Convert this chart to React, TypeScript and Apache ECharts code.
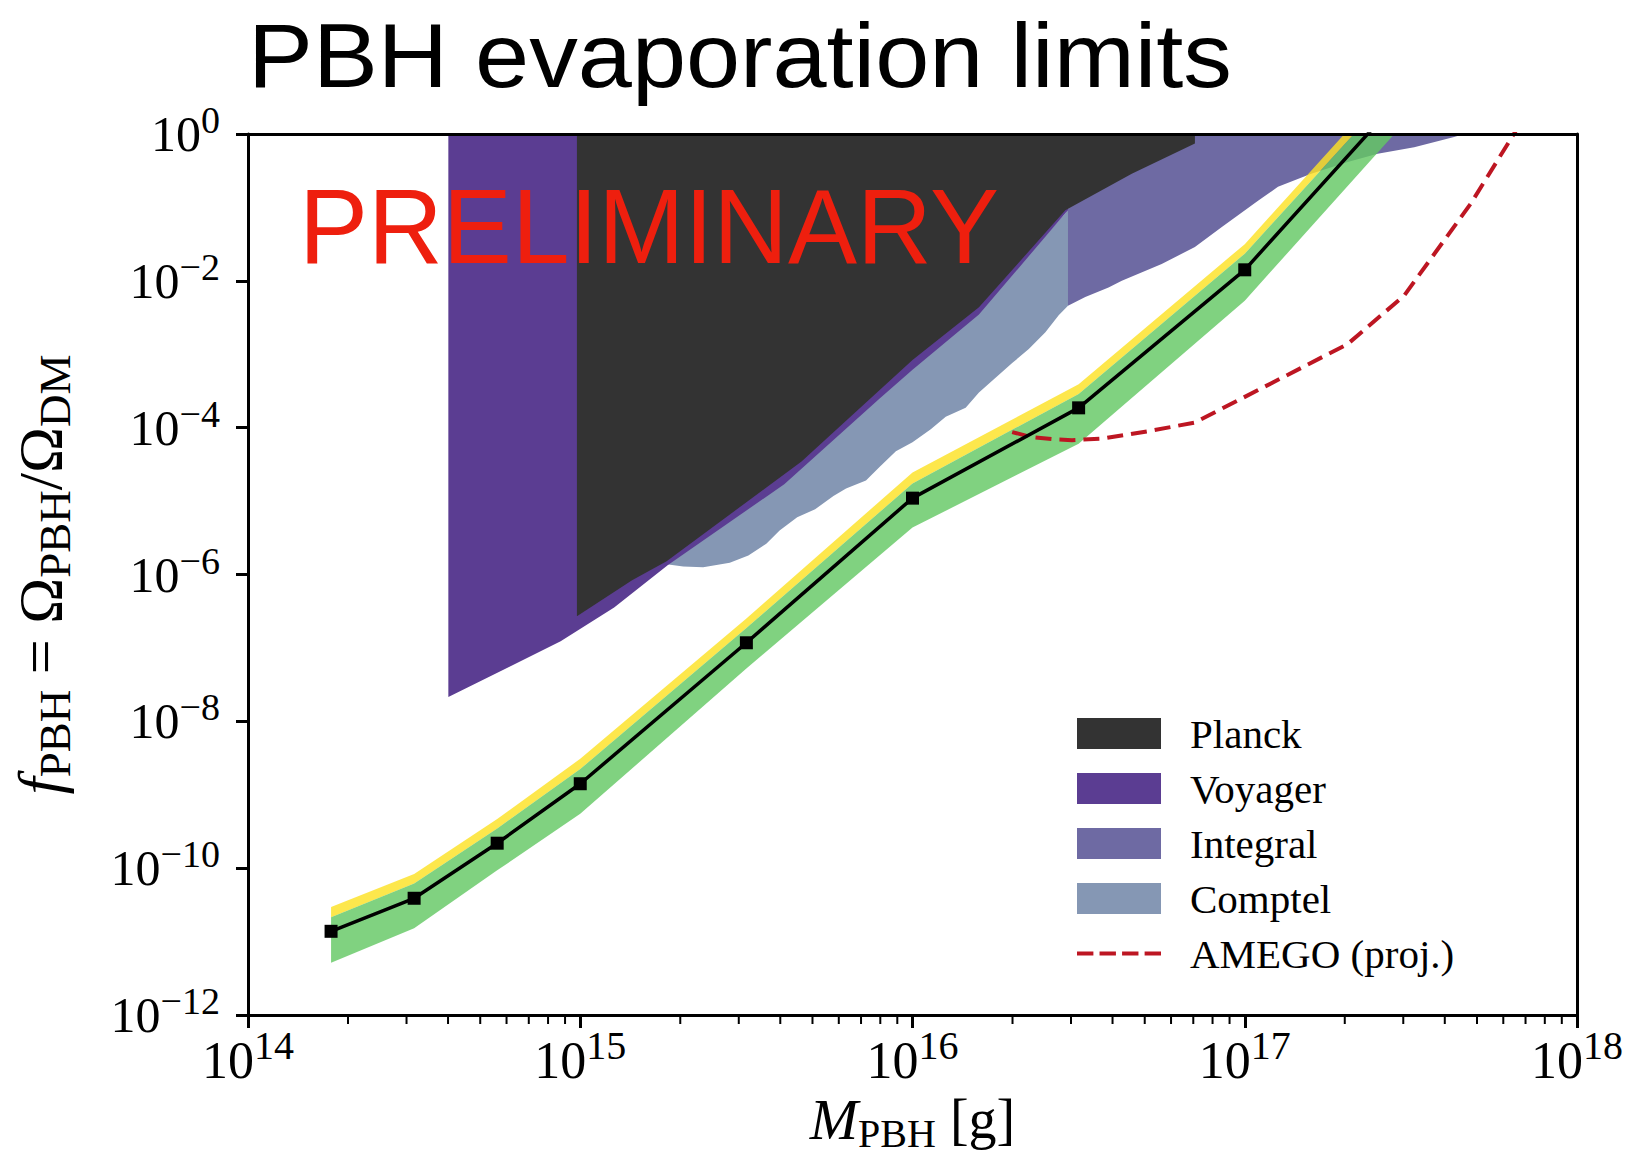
import React, { useEffect, useRef } from "react";
import * as echarts from "echarts";

const WIDTH = 1635;
const HEIGHT = 1167;

// Axis ticks, in log10 units
const massTickExps = [14, 15, 16, 17, 18];
const fTickExps = [-12, -10, -8, -6, -4, -2, 0];
const minorMultipliers = [2, 3, 4, 5, 6, 7, 8, 9];

// Evaporation bound: log10(M/g) and log10 f_PBH
const boundMassLog = [14.25, 14.5, 14.75, 15.0, 15.5, 16.0, 16.5, 17.0, 17.5];
const boundLog = [-10.86, -10.41, -9.66, -8.85, -6.93, -4.96, -3.73, -1.85, 0.65];
const band68LoLog = [-11.29, -10.82, -10.03, -9.26, -7.28, -5.36, -4.22, -2.27, 0.25];
const band68HiLog = [-10.67, -10.21, -9.46, -8.65, -6.73, -4.76, -3.54, -1.63, 0.85];
const band95HiLog = [-10.53, -10.08, -9.33, -8.51, -6.6, -4.61, -3.41, -1.5, 1.0];

// Excluded regions, outlines as [log10 M, log10 f]
const planckRegion = [
  [14.99, 0], [14.99, -6.57], [15.156, -6.08], [15.26, -5.82], [15.666, -4.46],
  [16.0, -3.08], [16.2, -2.36], [16.46, -1.04], [16.66, -0.54], [16.85, -0.13], [16.85, 0],
];
const voyagerRegion = [
  [14.603, 0], [14.603, -7.67], [14.941, -6.91], [15.102, -6.45], [15.264, -5.87],
  [15.614, -4.77], [15.902, -3.6], [16.0, -3.21], [16.2, -2.46], [16.46, -1.08],
  [16.56, -0.6], [16.66, 0],
];
const integralRegion = [
  [16.468, 0], [16.468, -2.34], [16.52, -2.22], [16.59, -2.09], [16.63, -2.0],
  [16.75, -1.77], [16.85, -1.54], [16.93, -1.27], [17.04, -0.91], [17.1, -0.72],
  [17.2, -0.54], [17.31, -0.38], [17.4, -0.27], [17.51, -0.18], [17.63, -0.04], [17.66, 0],
];
const comptelRegion = [
  [15.25, -5.8], [15.666, -4.5], [16.0, -3.12], [16.2, -2.4], [16.468, -1.04],
  [16.468, -2.34], [16.44, -2.47], [16.4, -2.7], [16.35, -2.93], [16.3, -3.12],
  [16.25, -3.32], [16.2, -3.52], [16.16, -3.73], [16.1, -3.85], [16.055, -4.02],
  [16.0, -4.2], [15.95, -4.32], [15.9, -4.54], [15.86, -4.72], [15.8, -4.83],
  [15.762, -4.93], [15.707, -5.11], [15.653, -5.22], [15.6, -5.4], [15.56, -5.58],
  [15.506, -5.74], [15.45, -5.84], [15.37, -5.9], [15.31, -5.89], [15.26, -5.86],
];
const amegoProjection = [
  [16.3, -4.06], [16.36, -4.13], [16.43, -4.16], [16.48, -4.17], [16.57, -4.15],
  [16.72, -4.04], [16.85, -3.93], [17.31, -2.86], [17.48, -2.2], [17.68, -0.95],
  [17.81, 0], [17.85, 0.3],
];

const legendNames = ["Planck", "Voyager", "Integral", "Comptel", "AMEGO (proj.)"];

const COLORS = {
  planck: "#333333",
  voyager: "#5b3d92",
  integral: "#6e6aa3",
  comptel: "#8597b4",
  green: "rgb(100,200,100)",
  yellow: "rgb(253,226,37)",
  amego: "#bd1622",
  prelim: "#ee1f0e",
};

const SERIF = "Liberation Serif";
const SANS = "Liberation Sans";

// four short dashes, used as the legend key of the dashed projection
const DASH_ICON = "path://M0,0h16v4h-16zM22,0h16v4h-16zM44,0h16v4h-16zM66,0h16v4h-16z";

const expText = (v: number) => (v < 0 ? "\u2212" + Math.abs(v) : String(v));

function regionSeries(name: string, pts: number[][], color: string, z: number) {
  return {
    type: "custom",
    name,
    coordinateSystem: "cartesian2d",
    clip: true,
    silent: true,
    z,
    itemStyle: { color },
    data: [pts[0]],
    renderItem: (_params: any, api: any) => ({
      type: "polygon",
      shape: { points: pts.map((p) => api.coord(p)) },
      style: { fill: color },
    }),
  };
}

function bandSeries(lo: number[], hi: number[], color: string, z: number) {
  const pts = boundMassLog
    .map((m, i) => [m, hi[i]])
    .concat(boundMassLog.map((m, i) => [m, lo[i]]).reverse());
  return {
    type: "custom",
    coordinateSystem: "cartesian2d",
    clip: true,
    silent: true,
    z,
    data: [pts[0]],
    renderItem: (_params: any, api: any) => ({
      type: "polygon",
      shape: { points: pts.map((p) => api.coord(p)) },
      style: { fill: color, opacity: 0.82 },
    }),
  };
}

export default function App() {
  const ref = useRef<HTMLDivElement>(null);

  useEffect(() => {
    document.body.style.margin = "0";
    if (!ref.current) return;
    const chart = echarts.init(ref.current, null, { renderer: "svg" });

    const minorTicks = massTickExps
      .slice(0, -1)
      .flatMap((e) => minorMultipliers.map((k) => e + Math.log10(k)));

    const frameAxis = {
      axisLine: { show: true, lineStyle: { color: "#000", width: 3 } },
      axisTick: { show: false },
      axisLabel: { show: false },
      splitLine: { show: false },
      z: 10,
    };

    const option: any = {
      animation: false,
      backgroundColor: "#fff",
      grid: {
        left: 248,
        top: 134,
        width: 1329,
        height: 881,
        containLabel: false,
        outerBoundsMode: "none",
      },
      xAxis: [
        {
          type: "value",
          min: massTickExps[0],
          max: massTickExps[massTickExps.length - 1],
          interval: 1,
          position: "bottom",
          z: 10,
          axisLine: { show: true, onZero: false, lineStyle: { color: "#000", width: 3 } },
          axisTick: { show: true, length: 13, lineStyle: { color: "#000", width: 3 } },
          splitLine: { show: false },
          axisLabel: {
            margin: 10,
            showMinLabel: true,
            showMaxLabel: true,
            formatter: (v: number) => `{b|10}{s|${expText(v)}}`,
            rich: {
              b: { fontFamily: SERIF, fontSize: 52, lineHeight: 70, verticalAlign: "middle", color: "#000" },
              s: { fontFamily: SERIF, fontSize: 40, verticalAlign: "top", color: "#000" },
            },
          },
          name: "{m|M}{s|PBH}{n| [g]}",
          nameLocation: "middle",
          nameGap: 73,
          nameTextStyle: {
            rich: {
              m: { fontFamily: SERIF, fontStyle: "italic", fontSize: 58, lineHeight: 63, verticalAlign: "top", color: "#000" },
              s: { fontFamily: SERIF, fontSize: 40, verticalAlign: "bottom", color: "#000" },
              n: { fontFamily: SERIF, fontSize: 56, lineHeight: 63, verticalAlign: "top", color: "#000" },
            },
          },
        },
        {
          type: "value",
          min: massTickExps[0],
          max: massTickExps[massTickExps.length - 1],
          position: "top",
          ...frameAxis,
        },
      ],
      yAxis: [
        {
          type: "value",
          min: fTickExps[0],
          max: fTickExps[fTickExps.length - 1],
          interval: 2,
          position: "left",
          z: 10,
          axisLine: { show: true, onZero: false, lineStyle: { color: "#000", width: 3 } },
          axisTick: { show: true, length: 12, lineStyle: { color: "#000", width: 3 } },
          splitLine: { show: false },
          axisLabel: {
            margin: 28,
            showMinLabel: true,
            showMaxLabel: true,
            formatter: (v: number) => `{b|10}{s|${expText(v)}}`,
            rich: {
              b: { fontFamily: SERIF, fontSize: 50, lineHeight: 66, verticalAlign: "middle", color: "#000" },
              s: { fontFamily: SERIF, fontSize: 38, verticalAlign: "top", color: "#000" },
            },
          },
          name: "{f|f}{s|PBH}{n| = \u03A9}{s|PBH}{n|/\u03A9}{s|DM}",
          nameLocation: "middle",
          nameRotate: 90,
          nameGap: 171,
          nameTextStyle: {
            rich: {
              f: { fontFamily: SERIF, fontStyle: "italic", fontSize: 62, lineHeight: 68, verticalAlign: "top", color: "#000" },
              n: { fontFamily: SERIF, fontSize: 62, lineHeight: 68, verticalAlign: "top", color: "#000" },
              s: { fontFamily: SERIF, fontSize: 45, verticalAlign: "bottom", color: "#000" },
            },
          },
        },
        {
          type: "value",
          min: fTickExps[0],
          max: fTickExps[fTickExps.length - 1],
          position: "right",
          ...frameAxis,
        },
      ],
      legend: {
        orient: "vertical",
        left: 1077,
        top: 713,
        padding: 0,
        itemWidth: 84,
        itemHeight: 31,
        itemGap: 14,
        selectedMode: false,
        data: legendNames.map((name, i) =>
          i < 4
            ? { name, icon: "rect" }
            : { name, icon: DASH_ICON, itemStyle: { color: COLORS.amego } }
        ),
        textStyle: {
          fontFamily: SERIF,
          fontSize: 41,
          color: "#000",
          padding: [0, 0, 0, 24],
        },
      },
      graphic: [
        {
          type: "text",
          x: 248,
          y: 56,
          scaleX: 1.081,
          z: 100,
          style: {
            text: "PBH evaporation limits",
            fontFamily: SANS,
            fontSize: 90,
            fill: "#000",
            align: "left",
            verticalAlign: "middle",
            textAlign: "left",
            textVerticalAlign: "middle",
          },
        },
        {
          type: "text",
          x: 299,
          y: 226,
          scaleX: 0.977,
          z: 100,
          style: {
            text: "PRELIMINARY",
            fontFamily: SANS,
            fontSize: 106,
            fill: COLORS.prelim,
            align: "left",
            verticalAlign: "middle",
            textAlign: "left",
            textVerticalAlign: "middle",
          },
        },
      ],
      series: [
        regionSeries("Comptel", comptelRegion, COLORS.comptel, 2),
        regionSeries("Voyager", voyagerRegion, COLORS.voyager, 2),
        regionSeries("Integral", integralRegion, COLORS.integral, 2),
        regionSeries("Planck", planckRegion, COLORS.planck, 2),
        bandSeries(band68HiLog, band95HiLog, COLORS.yellow, 3),
        bandSeries(band68LoLog, band68HiLog, COLORS.green, 3),
        {
          type: "line",
          name: "AMEGO (proj.)",
          z: 4,
          clip: true,
          silent: true,
          symbol: "none",
          data: amegoProjection,
          lineStyle: { color: COLORS.amego, width: 4, type: [16, 8] },
          itemStyle: { color: COLORS.amego },
        },
        {
          type: "line",
          name: "bound",
          z: 5,
          clip: true,
          silent: true,
          symbol: "rect",
          symbolSize: 13,
          data: boundMassLog.map((m, i) =>
            i === boundMassLog.length - 1
              ? { value: [m, boundLog[i]], symbol: "none" }
              : [m, boundLog[i]]
          ),
          lineStyle: { color: "#000", width: 3.5 },
          itemStyle: { color: "#000" },
        },
        {
          type: "custom",
          name: "minorTicks",
          z: 6,
          clip: false,
          silent: true,
          data: minorTicks.map((m) => [m, fTickExps[0]]),
          renderItem: (_params: any, api: any) => {
            const p = api.coord([api.value(0), api.value(1)]);
            return {
              type: "line",
              shape: { x1: p[0], y1: p[1], x2: p[0], y2: p[1] + 9 },
              style: { stroke: "#000", lineWidth: 2 },
            };
          },
        },
      ],
    };

    chart.setOption(option);
    return () => chart.dispose();
  }, []);

  return <div ref={ref} style={{ width: WIDTH, height: HEIGHT }} />;
}
